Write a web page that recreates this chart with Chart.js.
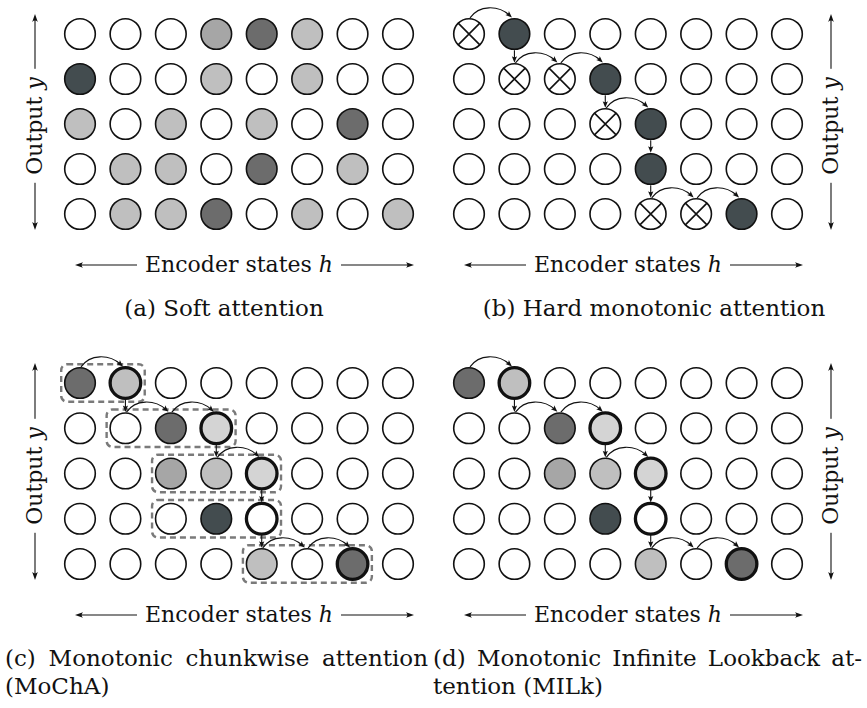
<!DOCTYPE html>
<html>
<head>
<meta charset="utf-8">
<script src="https://cdn.jsdelivr.net/npm/chart.js@4.4.0/dist/chart.umd.min.js"></script>
<style>
html,body{margin:0;padding:0;background:#fff;}
#wrap{position:relative;width:867px;height:708px;overflow:hidden;font-family:"DejaVu Serif",serif;color:#111;}
canvas{position:absolute;}
.lbl{position:absolute;font-size:22px;line-height:26px;white-space:nowrap;background:#fff;padding:0 8px;transform:translate(-50%,-50%);}
.vl{transform:translate(-50%,-50%) rotate(-90deg);}
.cap{position:absolute;font-size:23px;line-height:28px;white-space:nowrap;}
.capc{position:absolute;font-size:23px;line-height:28px;text-align:justify;}
.just{text-align:justify;text-align-last:justify;}
</style>
</head>
<body>
<div id="wrap">
  <canvas id="ca" width="433" height="290" style="left:0;top:0;width:433px;height:290px"></canvas>
  <canvas id="cb" width="434" height="290" style="left:433px;top:0;width:434px;height:290px"></canvas>
  <canvas id="cc" width="433" height="295" style="left:0;top:340px;width:433px;height:295px"></canvas>
  <canvas id="cd" width="434" height="295" style="left:433px;top:340px;width:434px;height:295px"></canvas>

  <div class="cap" style="left:224px;top:308px;transform:translate(-50%,-50%)">(a) Soft attention</div>
  <div class="cap" style="left:654px;top:308px;transform:translate(-50%,-50%)">(b) Hard monotonic attention</div>
  <div class="capc" style="left:5px;top:644px;width:423px">(c) Monotonic chunkwise attention (MoChA)</div>
  <div class="cap" style="left:433px;top:644px;width:429px">
    <div class="just">(d) Monotonic Infinite Lookback at-</div>
    <div>tention (MILk)</div>
  </div>
</div>
<script>
// ---- data ----
const encoderIdx = [0, 1, 2, 3, 4, 5, 6, 7];   // encoder states h (columns)
const outputIdx  = [0, 1, 2, 3, 4];            // output steps y (rows, top to bottom)

// attention weight level per cell: 0 none ... 5 strongest
const softWeights = [
  [0, 0, 0, 3, 4, 2, 0, 0],
  [5, 0, 0, 2, 0, 2, 0, 0],
  [2, 0, 2, 0, 2, 0, 4, 0],
  [0, 2, 2, 0, 4, 0, 2, 0],
  [0, 2, 2, 4, 0, 2, 0, 2]
];
const hardWeights = [
  [0, 5, 0, 0, 0, 0, 0, 0],
  [0, 0, 0, 5, 0, 0, 0, 0],
  [0, 0, 0, 0, 5, 0, 0, 0],
  [0, 0, 0, 0, 5, 0, 0, 0],
  [0, 0, 0, 0, 0, 0, 5, 0]
];
const hardSkipped = [[0, 0], [1, 1], [2, 1], [3, 2], [4, 4], [5, 4]]; // [col, row]
const monotonicPath = [[0, 0], [1, 0], [1, 1], [2, 1], [3, 1], [3, 2], [4, 2], [4, 3], [4, 4], [5, 4], [6, 4]];

const mochaWeights = [
  [4, 2, 0, 0, 0, 0, 0, 0],
  [0, 0, 4, 1, 0, 0, 0, 0],
  [0, 0, 3, 2, 1, 0, 0, 0],
  [0, 0, 0, 5, 0, 0, 0, 0],
  [0, 0, 0, 0, 2, 0, 4, 0]
];
const mochaSelected = [[1, 0], [3, 1], [4, 2], [4, 3], [6, 4]];
const mochaChunks = [[0, 0, 1], [1, 1, 3], [2, 2, 4], [3, 2, 4], [4, 4, 6]]; // [row, fromCol, toCol]

const milkWeights = [
  [4, 2, 0, 0, 0, 0, 0, 0],
  [0, 0, 4, 1, 0, 0, 0, 0],
  [0, 0, 3, 2, 1, 0, 0, 0],
  [0, 0, 0, 5, 0, 0, 0, 0],
  [0, 0, 0, 0, 2, 0, 4, 0]
];
const milkSelected = [[1, 0], [3, 1], [4, 2], [4, 3], [6, 4]];

// ---- drawing ----
const SHADES = ['#ffffff', '#d4d4d4', '#bfbfbf', '#a6a6a6', '#6c6c6c', '#434c4f'];
const R = 15.3;

function head(ctx, x, y, ang, L, W) {
  const c = Math.cos(ang), s = Math.sin(ang);
  ctx.beginPath();
  ctx.moveTo(x, y);
  ctx.lineTo(x - L * c + W * s, y - L * s - W * c);
  ctx.quadraticCurveTo(x - 0.65 * L * c, y - 0.65 * L * s, x - L * c - W * s, y - L * s + W * c);
  ctx.closePath();
  ctx.fill();
}

function rrect(ctx, x, y, w, h, r) {
  ctx.beginPath();
  ctx.moveTo(x + r, y);
  ctx.lineTo(x + w - r, y);
  ctx.arcTo(x + w, y, x + w, y + r, r);
  ctx.lineTo(x + w, y + h - r);
  ctx.arcTo(x + w, y + h, x + w - r, y + h, r);
  ctx.lineTo(x + r, y + h);
  ctx.arcTo(x, y + h, x, y + h - r, r);
  ctx.lineTo(x, y + r);
  ctx.arcTo(x, y, x + r, y, r);
  ctx.closePath();
}

const decor = {
  id: 'decor',
  beforeDatasetsDraw(chart, args, o) {
    const ctx = chart.ctx, xs = chart.scales.x, ys = chart.scales.y;
    ctx.save();
    ctx.strokeStyle = '#111'; ctx.fillStyle = '#111'; ctx.lineWidth = 1.1;
    // horizontal axis arrow
    const hy = ys.getPixelForValue(4) + 51;
    const hx0 = xs.getPixelForValue(0) - 5, hx1 = xs.getPixelForValue(7) + 16;
    ctx.beginPath(); ctx.moveTo(hx0 + 4, hy); ctx.lineTo(hx1 - 4, hy); ctx.stroke();
    head(ctx, hx0, hy, Math.PI, 8, 2.8); head(ctx, hx1, hy, 0, 8, 2.8);
    // vertical axis arrow
    const vx = o.side === 'left' ? xs.getPixelForValue(0) - 45 : xs.getPixelForValue(7) + 44;
    const vy0 = ys.getPixelForValue(0) - 20, vy1 = ys.getPixelForValue(4) + 16;
    ctx.beginPath(); ctx.moveTo(vx, vy0 + 4); ctx.lineTo(vx, vy1 - 4); ctx.stroke();
    head(ctx, vx, vy0, -Math.PI / 2, 8, 2.8); head(ctx, vx, vy1, Math.PI / 2, 8, 2.8);
    // dashed chunk boxes
    if (o.chunks) {
      ctx.setLineDash([6, 4]); ctx.lineWidth = 2.4; ctx.strokeStyle = '#7a7a7a';
      o.chunks.forEach(([r, a, b]) => {
        const x0 = xs.getPixelForValue(a) - R - 3.5, x1 = xs.getPixelForValue(b) + R + 4;
        const y0 = ys.getPixelForValue(r) - R - 3.5, y1 = ys.getPixelForValue(r) + R + 3.5;
        rrect(ctx, x0, y0, x1 - x0, y1 - y0, 6); ctx.stroke();
      });
    }
    ctx.restore();
  },
  afterDatasetsDraw(chart, args, o) {
    if (!o.path) return;
    const ctx = chart.ctx, xs = chart.scales.x, ys = chart.scales.y;
    ctx.save();
    ctx.strokeStyle = '#111'; ctx.fillStyle = '#111'; ctx.lineWidth = 1.1;
    for (let i = 1; i < o.path.length; i++) {
      const [c1, r1] = o.path[i - 1], [c2, r2] = o.path[i];
      const x1 = xs.getPixelForValue(c1), x2 = xs.getPixelForValue(c2);
      const y1 = ys.getPixelForValue(r1), y2 = ys.getPixelForValue(r2);
      if (r1 === r2) {
        const top = y1 - R - 0.8, dx = x2 - x1;
        const sx = x1 + 1, ex = x2 - 2.5, ey = top - 0.5;
        const c1x = x1 + 0.22 * dx, c1y = top - 13, c2x = x2 - 0.36 * dx, c2y = top - 13;
        const ang = Math.atan2(ey - c2y, ex - c2x);
        ctx.beginPath(); ctx.moveTo(sx, top);
        ctx.bezierCurveTo(c1x, c1y, c2x, c2y, ex - 3 * Math.cos(ang), ey - 3 * Math.sin(ang));
        ctx.stroke();
        head(ctx, ex, ey, ang, 6.5, 2.6);
      } else {
        const sy = y1 + R + 1, ey = y2 - R - 1;
        ctx.beginPath(); ctx.moveTo(x1, sy); ctx.lineTo(x1, ey - 3); ctx.stroke();
        head(ctx, x1, ey, Math.PI / 2, 6.5, 2.6);
      }
    }
    ctx.restore();
  }
};

function makePanel(id, cfg) {
  const pts = [], bg = [], bw = [];
  outputIdx.forEach(r => encoderIdx.forEach(c => {
    pts.push({ x: c, y: r });
    bg.push(SHADES[cfg.weights[r][c]]);
    const bold = (cfg.selected || []).some(p => p[0] === c && p[1] === r);
    bw.push(bold ? 3.3 : 1.6);
  }));
  const datasets = [];
  if (cfg.crossed) {
    datasets.push({
      label: 'skipped', data: cfg.crossed.map(p => ({ x: p[0], y: p[1] })),
      pointStyle: 'crossRot', pointRadius: R, pointHoverRadius: R,
      pointBorderColor: '#111', pointBorderWidth: 1.6, pointBackgroundColor: 'rgba(0,0,0,0)', clip: false
    });
  }
  datasets.push({
    label: 'attention', data: pts, pointStyle: 'circle', pointRadius: R, pointHoverRadius: R,
    pointBackgroundColor: bg, pointBorderColor: '#111', pointBorderWidth: bw, pointHoverBorderWidth: bw, clip: false
  });
  return new Chart(document.getElementById(id), {
    type: 'scatter',
    data: { datasets },
    options: {
      responsive: false, animation: false, events: [],
      layout: { padding: cfg.pad },
      scales: {
        x: { type: 'linear', min: 0, max: 7, display: false },
        y: { type: 'linear', min: 0, max: 4, reverse: true, display: false }
      },
      plugins: {
        legend: { display: false }, tooltip: { enabled: false },
        decor: { side: cfg.side, path: cfg.path, chunks: cfg.chunks }
      }
    },
    plugins: [decor]
  });
}

const panels = [
  makePanel('ca', { weights: softWeights, side: 'left', pad: { left: 80, right: 35, top: 34, bottom: 76 } }),
  makePanel('cb', { weights: hardWeights, crossed: hardSkipped, path: monotonicPath, side: 'right', pad: { left: 36, right: 80, top: 34, bottom: 76 } }),
  makePanel('cc', { weights: mochaWeights, selected: mochaSelected, path: monotonicPath, chunks: mochaChunks, side: 'left', pad: { left: 80, right: 35, top: 43, bottom: 71 } }),
  makePanel('cd', { weights: milkWeights, selected: milkSelected, path: monotonicPath, side: 'right', pad: { left: 36, right: 80, top: 43, bottom: 71 } })
];

// axis labels as real text, positioned from each chart's scales
const wrap = document.getElementById('wrap');
panels.forEach(ch => {
  const cv = ch.canvas, ox = cv.offsetLeft, oy = cv.offsetTop;
  const xs = ch.scales.x, ys = ch.scales.y;
  const side = ch.options.plugins.decor.side;
  const h = document.createElement('div');
  h.className = 'lbl';
  h.innerHTML = 'Encoder states <i>h</i>';
  h.style.left = (ox + (xs.getPixelForValue(0) + xs.getPixelForValue(7)) / 2) + 'px';
  h.style.top = (oy + ys.getPixelForValue(4) + 51) + 'px';
  wrap.appendChild(h);
  const v = document.createElement('div');
  v.className = 'lbl vl';
  v.innerHTML = 'Output <i>y</i>';
  const vx = side === 'left' ? xs.getPixelForValue(0) - 45 : xs.getPixelForValue(7) + 44;
  v.style.left = (ox + vx) + 'px';
  v.style.top = (oy + ys.getPixelForValue(2) + 2) + 'px';
  wrap.appendChild(v);
});
</script>
</body>
</html>
